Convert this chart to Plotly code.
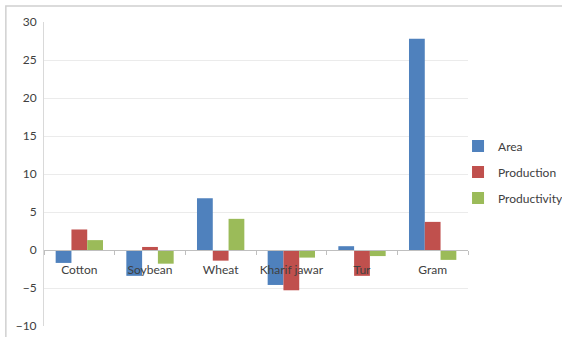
import plotly.graph_objects as go

crops = ["Cotton", "Soybean", "Wheat", "Kharif jawar", "Tur", "Gram"]
area = [-1.7, -3.4, 6.8, -4.6, 0.5, 27.8]
production = [2.7, 0.4, -1.4, -5.3, -3.4, 3.7]
productivity = [1.3, -1.8, 4.1, -1.0, -0.8, -1.3]

y_ticks = [-10, -5, 0, 5, 10, 15, 20, 25, 30]

series = [
    ("Area", area, "#4F81BD"),
    ("Production", production, "#C0504D"),
    ("Productivity", productivity, "#9BBB59"),
]

fig = go.Figure()
for name, vals, color in series:
    fig.add_trace(go.Bar(
        name=name, x=crops, y=vals, marker_color=color,
        marker_line_width=0, legendgroup=name,
    ))

font = "Lato"
fig.update_layout(
    width=562, height=337,
    margin=dict(l=44, r=94, t=22, b=11, autoexpand=False),
    paper_bgcolor="white", plot_bgcolor="white",
    barmode="group", bargap=0.33, bargroupgap=0,
    font=dict(family=font, size=12, color="#404040"),
    legend=dict(
        xref="container", yref="container",
        x=0.815, y=0.61, xanchor="left", yanchor="top",
        font=dict(family=font, size=12, color="#404040"),
        tracegroupgap=7, itemwidth=30,
        bgcolor="rgba(0,0,0,0)",
    ),
    showlegend=True,
)
fig.update_xaxes(
    type="category", anchor="free", position=0.25,
    showline=True, linecolor="#BFBFBF", linewidth=1,
    ticks="outside", tickson="boundaries", ticklen=4, tickcolor="#BFBFBF",
    showgrid=False, tickangle=0, automargin=False, ticklabelstandoff=9,
    tickfont=dict(family=font, size=12, color="#404040"),
    layer="above traces",
)
fig.update_yaxes(
    range=[-10, 30], tickvals=y_ticks, automargin=False, ticklabelstandoff=4,
    showgrid=True, gridcolor="#EBEBEB", gridwidth=1,
    showline=True, linecolor="#D9D9D9", zeroline=False,
    tickfont=dict(family=font, size=12, color="#404040"),
)
# outer chart frame
fig.add_shape(type="rect", xref="paper", yref="paper",
              x0=-0.09, x1=1.4, y0=-0.2, y1=1.053,
              line=dict(color="#D0D0D0", width=1.5), layer="below")

fig.write_html("out.html")
